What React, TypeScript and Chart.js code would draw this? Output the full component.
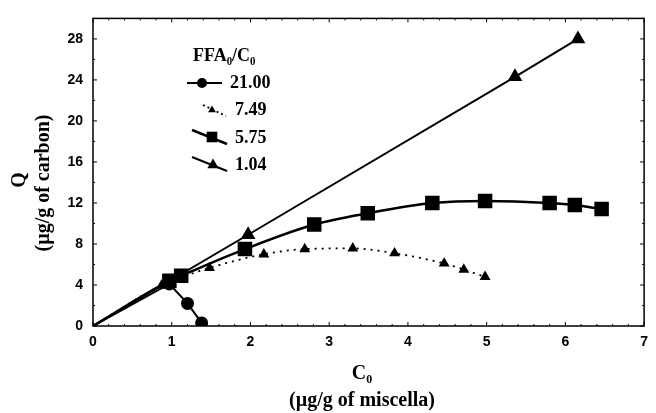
import React, { useEffect, useRef } from "react";
import { Chart, registerables } from "chart.js";

Chart.register(...registerables);

// FFA0/C0 = 21.00 (circles)
const s2100X = [0, 0.97, 1.2, 1.38];
const s2100Y = [0, 4.1, 2.2, 0.3];
// FFA0/C0 = 7.49 (small triangles, dotted)
const s749X = [0, 0.87, 1.48, 2.17, 2.69, 3.3, 3.83, 4.46, 4.71, 4.98];
const s749Y = [0, 3.95, 5.66, 7.0, 7.5, 7.57, 7.1, 6.1, 5.5, 4.8];
// FFA0/C0 = 5.75 (squares)
const s575X = [0, 0.97, 1.12, 1.93, 2.81, 3.49, 4.31, 4.98, 5.8, 6.12, 6.46];
const s575Y = [0, 4.4, 4.9, 7.5, 9.9, 11.0, 12.0, 12.2, 12.0, 11.8, 11.4];
// FFA0/C0 = 1.04 (triangles)
const s104X = [0, 1.97, 5.36, 6.16];
const s104Y = [0, 8.9, 24.3, 28.0];

const xTicks = [0, 1, 2, 3, 4, 5, 6, 7];
const yTicks = [0, 4, 8, 12, 16, 20, 24, 28];
const legendTitle = "FFA\u2080/C\u2080";
const legendLabels = ["21.00", "7.49", "5.75", "1.04"];
const yTitle = ["Q", "(\u00b5g/g of carbon)"];
const xTitle = ["C\u2080", "(\u00b5g/g of miscella)"];

const pts = (xs: number[], ys: number[]) => xs.map((x, i) => ({ x, y: ys[i] }));
const hideFirst = (xs: number[], r: number) => xs.map((_, i) => (i === 0 ? 0 : r));

const SERIF = "'Liberation Serif', 'Times New Roman', serif";
const SANS = "'Liberation Sans', Arial, sans-serif";

function drawMarker(ctx: CanvasRenderingContext2D, style: string, r: number, x: number, y: number) {
  ctx.beginPath();
  if (style === "circle") {
    ctx.arc(x, y, r, 0, Math.PI * 2);
  } else if (style === "rect") {
    const s = Math.SQRT1_2 * r;
    ctx.rect(x - s, y - s, 2 * s, 2 * s);
  } else {
    const h = r * 1.5;
    const w = r * 1.732;
    ctx.moveTo(x, y - r);
    ctx.lineTo(x + w / 2, y - r + h);
    ctx.lineTo(x - w / 2, y - r + h);
    ctx.closePath();
  }
  ctx.fill();
}

const decor = {
  id: "decor",
  afterDraw(chart: any) {
    const ctx = chart.ctx;
    const { left, right, top, bottom } = chart.chartArea;
    const xs = chart.scales.x;
    const ys = chart.scales.y;
    ctx.save();
    ctx.strokeStyle = "#000";
    ctx.lineWidth = 1.5;
    ctx.strokeRect(left, top, right - left, bottom - top);
    ctx.lineWidth = 1;
    for (let v = 0; v <= 7.001; v += 0.2) {
      const px = xs.getPixelForValue(v);
      const major = Math.abs(v - Math.round(v)) < 0.01;
      const len = major ? 4 : 2;
      ctx.beginPath();
      ctx.moveTo(px, bottom);
      ctx.lineTo(px, bottom - len);
      ctx.moveTo(px, top);
      ctx.lineTo(px, top + len);
      ctx.stroke();
    }
    for (let v = 0; v <= 30.001; v += 2) {
      const py = ys.getPixelForValue(v);
      const major = v % 4 === 0;
      const len = major ? 4 : 2;
      ctx.beginPath();
      ctx.moveTo(left, py);
      ctx.lineTo(left + len, py);
      ctx.moveTo(right, py);
      ctx.lineTo(right - len, py);
      ctx.stroke();
    }

    // axis titles
    ctx.fillStyle = "#000";
    ctx.font = `bold 20px ${SERIF}`;
    ctx.textAlign = "center";
    ctx.textBaseline = "middle";
    ctx.fillText(xTitle[0], 362, 374);
    ctx.fillText(xTitle[1], 362, 401);
    ctx.save();
    ctx.translate(20, 180);
    ctx.rotate(-Math.PI / 2);
    ctx.fillText(yTitle[0], 0, 0);
    ctx.restore();
    ctx.save();
    ctx.translate(44, 183);
    ctx.rotate(-Math.PI / 2);
    ctx.fillText(yTitle[1], 0, 0);
    ctx.restore();

    // legend
    ctx.textAlign = "left";
    ctx.font = `bold 18px ${SERIF}`;
    ctx.fillText(legendTitle, 193, 56);
    const rows = [
      { y: 83, x1: 187, y1: 83, x2: 222, y2: 83, mx: 202, my: 83, dash: [] as number[], style: "circle", r: 5, lw: 2, tx: 230 },
      { y: 110, x1: 203, y1: 105, x2: 226, y2: 116, mx: 212, my: 110, dash: [2, 3], style: "triangle", r: 4.5, lw: 1.8, tx: 235 },
      { y: 138, x1: 192, y1: 130, x2: 227, y2: 144, mx: 212, my: 137, dash: [], style: "rect", r: 7.5, lw: 2.5, tx: 235 },
      { y: 165, x1: 192, y1: 157, x2: 227, y2: 171, mx: 213, my: 165, dash: [], style: "triangle", r: 6.5, lw: 2, tx: 235 },
    ];
    rows.forEach((r, i) => {
      ctx.save();
      ctx.strokeStyle = "#000";
      ctx.lineWidth = r.lw;
      ctx.setLineDash(r.dash);
      ctx.beginPath();
      ctx.moveTo(r.x1, r.y1);
      ctx.lineTo(r.x2, r.y2);
      ctx.stroke();
      ctx.setLineDash([]);
      ctx.fillStyle = "#000";
      drawMarker(ctx, r.style, r.r, r.mx, r.my);
      ctx.restore();
      ctx.fillStyle = "#000";
      ctx.font = `bold 18px ${SERIF}`;
      ctx.textBaseline = "middle";
      ctx.fillText(legendLabels[i], r.tx, r.y);
    });
    ctx.restore();
  },
};

export default function App() {
  const ref = useRef<HTMLCanvasElement | null>(null);
  useEffect(() => {
    document.body.style.margin = "0";
    const canvas = ref.current!;
    const chart = new Chart(canvas, {
      type: "line",
      data: {
        datasets: [
          {
            label: "1.04",
            data: pts(s104X, s104Y),
            borderColor: "#000",
            backgroundColor: "#000",
            borderWidth: 2,
            pointStyle: "triangle",
            pointRadius: hideFirst(s104X, 6.5),
            tension: 0,
          },
          {
            label: "7.49",
            data: pts(s749X, s749Y),
            borderColor: "#000",
            backgroundColor: "#000",
            borderWidth: 1.8,
            borderDash: [2, 5],
            pointStyle: "triangle",
            pointRadius: hideFirst(s749X, 4.5),
            cubicInterpolationMode: "monotone",
          },
          {
            label: "5.75",
            data: pts(s575X, s575Y),
            borderColor: "#000",
            backgroundColor: "#000",
            borderWidth: 2.5,
            pointStyle: "rect",
            pointRadius: hideFirst(s575X, 8.5),
            cubicInterpolationMode: "monotone",
          },
          {
            label: "21.00",
            data: pts(s2100X, s2100Y),
            borderColor: "#000",
            backgroundColor: "#000",
            borderWidth: 2,
            pointStyle: "circle",
            pointRadius: hideFirst(s2100X, 5.5),
            tension: 0,
          },
        ],
      },
      options: {
        animation: false,
        responsive: false,
        maintainAspectRatio: false,
        layout: { padding: { left: 0, right: 8, top: 15, bottom: 0 } },
        plugins: { legend: { display: false }, tooltip: { enabled: false } },
        scales: {
          x: {
            type: "linear",
            min: 0,
            max: 7,
            grid: { display: false, drawTicks: false },
            border: { display: false },
            afterBuildTicks: (s: any) => {
              s.ticks = xTicks.map((v) => ({ value: v }));
            },
            afterFit: (s: any) => {
              s.height = 87;
            },
            ticks: {
              color: "#000",
              padding: 8,
              maxRotation: 0,
              font: { family: SANS, weight: "bold", size: 14 },
            },
          },
          y: {
            type: "linear",
            min: 0,
            max: 30,
            grid: { display: false, drawTicks: false },
            border: { display: false },
            afterBuildTicks: (s: any) => {
              s.ticks = yTicks.map((v) => ({ value: v }));
            },
            afterFit: (s: any) => {
              s.width = 93;
            },
            ticks: {
              color: "#000",
              padding: 10,
              font: { family: SANS, weight: "bold", size: 14 },
            },
          },
        },
      } as any,
      plugins: [decor],
    });
    return () => chart.destroy();
  }, []);
  return <canvas ref={ref} width={656} height={413} style={{ display: "block", width: 656, height: 413 }} />;
}
